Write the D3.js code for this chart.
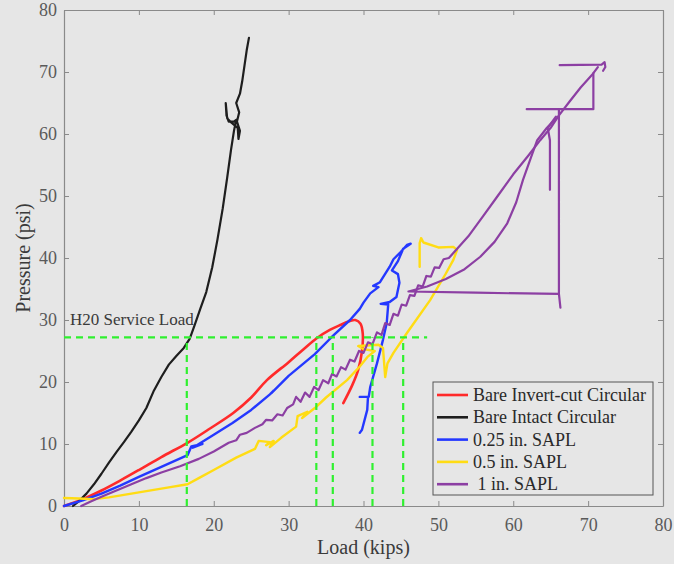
<!DOCTYPE html>
<html>
<head>
<meta charset="utf-8">
<script src="https://cdn.jsdelivr.net/npm/d3@7"></script>
<style>
  html, body { margin: 0; padding: 0; background: #e6e6e6; }
  svg { display: block; }
  text { font-family: "Liberation Serif", "Tinos", "Times New Roman", "DejaVu Serif", "Noto Serif", serif; }
</style>
</head>
<body>
<div id="chart"></div>
<script>
// ---- data (Load in kips, Pressure in psi) ----
const xTicks = [0, 10, 20, 30, 40, 50, 60, 70, 80];
const yTicks = [0, 10, 20, 30, 40, 50, 60, 70, 80];

const seriesNames = ['Bare Invert-cut Circular', 'Bare Intact Circular', '0.25 in. SAPL', '0.5 in. SAPL', ' 1 in. SAPL'];
const seriesColors = ['#ff2a2a', '#1e1e1e', '#2438ff', '#ffdc14', '#8c3fa3'];

const redCurve = [[0,0],[2.5,1.1],[5,2.5],[7.5,4.1],[10,5.8],[13,7.9],[16.5,10.2],[19.5,12.5],[22.6,15],[25,17.5],[27.1,20.3],[30,23.2],[32,25.3],[33.8,27.1],[35.5,28.4],[36.9,29.2],[38.1,29.8],[38.9,30],[39.6,29.4],[39.9,27.8],[39.8,25],[39.3,22],[38.5,19.5],[37.3,16.6]];

const blackCurve = [[1.2,0],[2,0.8],[3,2],[4,3.5],[5,5.2],[6,7],[7,8.7],[8,10.3],[9,12],[10,13.8],[11,15.8],[12,18.6],[13,20.8],[14,22.8],[15,24.2],[16,25.5],[16.8,27],[17.4,29],[18.2,31.8],[19,34.5],[19.8,38.5],[20.5,43],[21.2,48],[21.8,53],[22.3,57.4],[22.7,60.5],[23,62.3],[22.7,62],[22,62],[21.7,63],[21.6,65],[21.8,62.5],[22.4,61.8],[23.2,61],[23.3,59.2],[23.5,60.5],[23.1,62],[23.4,63.5],[23,65],[23.5,66.5],[23.8,68.5],[24.1,71],[24.4,73.5],[24.7,75.5]];

const blueCurve = [[0,0],[2.5,0.9],[5,2],[7.5,3.3],[10,4.7],[13,6.3],[16.5,8.2],[17,9.6],[18.5,10],[17.2,9.4],[20,11.5],[22.5,13.4],[25,15.5],[27.5,18],[28,18.6],[27.7,18.2],[30,21],[33.5,24.5],[35.8,27.3],[38.2,30],[39.5,31.8],[40,32.8],[40.9,34.3],[42,35.3],[41.3,35.5],[42.2,36.1],[43.5,38.6],[44,39.8],[45,41],[45.8,42.1],[46.3,42.3],[45.3,41.5],[44.6,39.5],[43.8,38],[44.6,37.4],[44.8,36],[44.4,33.7],[43.5,32.9],[42.3,32.6],[43.3,32.5],[43.1,29.5],[42.6,26.8],[41.8,23],[40.9,19.2],[40.7,17.6],[39.5,17.6],[40.6,17.6],[40.5,15.5],[39.8,12.3],[39.5,11.8]];

const yellowCurve = [[0,1.3],[2,1.2],[4,1.1],[6,1.4],[10,2.2],[14,3],[16.5,3.5],[18,4.5],[20,5.8],[23,7.8],[25.5,9.2],[26,10.5],[27.5,10.3],[27,9.8],[28,10.5],[27.5,9.5],[29,11],[31,12.8],[31.2,14.5],[32.5,15.2],[31.8,14.2],[33.5,15.8],[35,17.5],[37.8,20.3],[39.5,22.5],[40.5,24],[41.5,25],[40,25.3],[39.3,25.8],[42,26],[42.6,25.5],[42.9,20.8],[43.2,23],[44,24.7],[45.8,27.9],[48.9,33.2],[51,37.5],[52,39.7],[52.5,41.3],[52,41.8],[50,41.7],[48,42.5],[47.7,43.2],[47.5,42.4],[47.5,38.6]];

const purpleSegments = [
  [[2.3,0],[3.5,0.7],[5,1.5],[7,2.5],[9,3.5],[11,4.5],[13,5.4],[15.5,6.4],[18,7.6],[20,8.8],[22,10.2],[23,10.6],[23.5,11.5],[24.4,11.8],[25.5,12.6],[26.5,13.2],[27,13.9],[27.8,13.8],[28.5,14.8],[29.2,14.6],[29.8,15.8],[30.6,16.4],[31,17.6],[31.6,16.8],[32.2,18.3],[32.8,17.6],[33.4,19.2],[34,18.7],[34.6,20.3],[35.3,19.8],[35.8,21.3],[36.4,20.9],[37,22.4],[37.6,22],[38.2,23.6],[38.8,23.3],[39.4,25],[40,24.7],[40.6,26.4],[41.2,26.1],[41.8,28],[42.4,27.6],[42.9,29.5],[43.5,29.2],[44,31],[44.6,30.7],[45.1,32.5],[45.7,32.3],[46.2,34],[46.8,33.9],[47.3,35.6],[47.9,35.4],[48.4,37.1],[49,37],[49.5,38.5],[50.1,38.4],[50.7,39.8],[51.4,40],[52,40.8],[54,43.5],[56,46.8],[57.8,49.8],[60,53.5],[62,56.5],[63.6,59],[65,61],[66.1,63],[67.5,65.2],[69,67.5],[70.5,69.5],[71.3,70.8]],
  [[66.2,71.1],[71.8,71.2],[72.2,71.6],[72.3,70.8],[72,70.2]],
  [[61.8,64],[70.7,64],[70.7,69.8]],
  [[66.1,64],[66.1,34.2],[66.3,32],[66.1,34.2],[55,34.4],[46,34.6],[48.5,35.4],[51,36.6],[53.5,38.2],[55.6,40.2],[57.5,42.6],[59.2,45.6],[60.4,49],[61.3,52.6],[62.3,56],[63.2,59],[64.5,61],[65.7,62.5]],
  [[65.7,62.8],[64.6,61],[64.9,59],[64.9,51]]
];

const serviceLoadPressure = 27.2;
const serviceLineEnd = 48.5;
const serviceLoads = [16.4, 33.7, 35.9, 41.2, 45.3];

// ---- layout ----
const W = 674, H = 564;
const margin = { left: 64, right: 11, top: 10, bottom: 58 };
const serif = '"Liberation Serif", "Tinos", "Times New Roman", "DejaVu Serif", "Noto Serif", serif';

const svg = d3.select('#chart').append('svg')
  .attr('width', W)
  .attr('height', H)
  .attr('font-family', serif);

svg.append('rect').attr('width', W).attr('height', H).attr('fill', '#e6e6e6');

const x = d3.scaleLinear().domain([0, 80]).range([margin.left, W - margin.right]);
const y = d3.scaleLinear().domain([0, 80]).range([H - margin.bottom, margin.top]);

const axisColor = '#8a8a8a';
const tickText = '#5a5a5a';

function styleAxis(g) {
  g.attr('font-family', serif);
  g.select('.domain').attr('stroke', axisColor).attr('stroke-width', 1.2);
  g.selectAll('.tick line').attr('stroke', axisColor);
  g.selectAll('.tick text').attr('fill', tickText).attr('font-size', 18);
}

svg.append('g')
  .attr('transform', `translate(0,${y(0)})`)
  .call(d3.axisBottom(x).tickValues(xTicks).tickSizeInner(-5).tickSizeOuter(0).tickPadding(12))
  .call(styleAxis);

svg.append('g')
  .attr('transform', `translate(0,${y(80)})`)
  .call(d3.axisTop(x).tickValues(xTicks).tickSizeInner(-5).tickSizeOuter(0).tickFormat(''))
  .call(styleAxis);

svg.append('g')
  .attr('transform', `translate(${x(0)},0)`)
  .call(d3.axisLeft(y).tickValues(yTicks).tickSizeInner(-5).tickSizeOuter(0).tickPadding(7))
  .call(styleAxis);

svg.append('g')
  .attr('transform', `translate(${x(80)},0)`)
  .call(d3.axisRight(y).tickValues(yTicks).tickSizeInner(-5).tickSizeOuter(0).tickFormat(''))
  .call(styleAxis);

// axis titles
svg.append('text')
  .attr('x', (x(0) + x(80)) / 2)
  .attr('y', 554)
  .attr('text-anchor', 'middle')
  .attr('font-size', 20)
  .attr('fill', '#3a3a3a')
  .text('Load (kips)');

svg.append('text')
  .attr('transform', `translate(30,${(y(0) + y(80)) / 2}) rotate(-90)`)
  .attr('text-anchor', 'middle')
  .attr('font-size', 20)
  .attr('fill', '#3a3a3a')
  .text('Pressure (psi)');

// ---- curves ----
const line = d3.line().x(d => x(d[0])).y(d => y(d[1]));
const smooth = d3.line().x(d => x(d[0])).y(d => y(d[1])).curve(d3.curveCatmullRom);

const plot = svg.append('g').attr('fill', 'none')
  .attr('stroke-linejoin', 'round').attr('stroke-linecap', 'round');

plot.append('path').datum(redCurve).attr('d', smooth)
  .attr('stroke', seriesColors[0]).attr('stroke-width', 2.6);
plot.append('path').datum(blackCurve).attr('d', line)
  .attr('stroke', seriesColors[1]).attr('stroke-width', 2.2);
plot.append('path').datum(blueCurve).attr('d', line)
  .attr('stroke', seriesColors[2]).attr('stroke-width', 2.4);
plot.append('path').datum(yellowCurve).attr('d', line)
  .attr('stroke', seriesColors[3]).attr('stroke-width', 2.4);
plot.selectAll('path.purple').data(purpleSegments).join('path')
  .attr('class', 'purple')
  .attr('d', line)
  .attr('stroke', seriesColors[4]).attr('stroke-width', 2.2);

// ---- H20 service load guide lines ----
const guide = svg.append('g').attr('stroke', '#2ff02f').attr('stroke-width', 2.2)
  .attr('stroke-dasharray', '7,5').attr('fill', 'none');

guide.append('path')
  .datum([[0, serviceLoadPressure], [serviceLineEnd, serviceLoadPressure]])
  .attr('d', line);

guide.selectAll('path.v').data(serviceLoads).join('path')
  .attr('class', 'v')
  .attr('d', d => line([[d, 0], [d, serviceLoadPressure]]));

svg.append('text')
  .attr('x', 70)
  .attr('y', 325)
  .attr('font-size', 17)
  .attr('fill', '#3a3a3a')
  .text('H20 Service Load');

// ---- legend ----
const legend = svg.append('g').attr('transform', 'translate(433,382)');
legend.append('rect')
  .attr('width', 220).attr('height', 113)
  .attr('fill', '#e6e6e6').attr('stroke', '#555').attr('stroke-width', 1);

const rows = legend.selectAll('g.row').data(seriesNames).join('g')
  .attr('class', 'row')
  .attr('transform', (d, i) => `translate(0,${13 + i * 22.3})`);

rows.append('line')
  .attr('x1', 4).attr('x2', 35)
  .attr('stroke', (d, i) => seriesColors[i])
  .attr('stroke-width', 2.6);

rows.append('text')
  .attr('x', 40).attr('y', 6)
  .attr('font-size', 18)
  .attr('fill', '#2a2a2a')
  .style('white-space', 'pre')
  .text(d => d);
</script>
</body>
</html>
